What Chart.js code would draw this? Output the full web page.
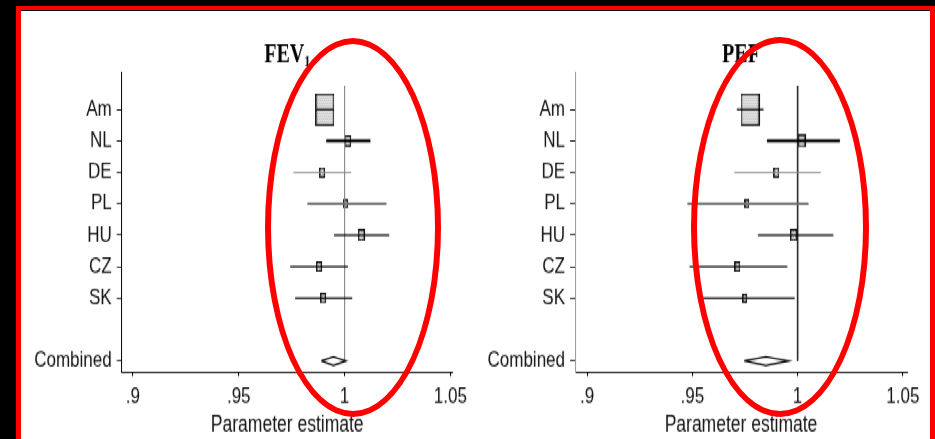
<!DOCTYPE html>
<html>
<head>
<meta charset="utf-8">
<script src="https://cdn.jsdelivr.net/npm/chart.js@4.4.1/dist/chart.umd.min.js"></script>
<style>
  html, body { margin: 0; padding: 0; background: #000; width: 935px; height: 439px; overflow: hidden; }
  #frame {
    position: absolute; left: 16px; top: 6px; width: 909px; height: 429px;
    background: #fff; border-left: 5px solid #f00; border-top: 4px solid #f00; border-right: 5px solid #f00;
    box-shadow: inset 0 1px 0 #000;
  }
  /* the source picture is stretched vertically, so the plots are drawn flat and scaled up */
  #plots { position: absolute; left: 0; top: 0; width: 935px; height: 338px; transform: scaleY(1.3); transform-origin: 0 0; }
  .panel { position: absolute; top: 0; height: 338px; }
  .ring { position: absolute; border: 6px solid #f00; border-radius: 50%; box-sizing: border-box; }
</style>
</head>
<body>
<div id="frame"></div>
<div id="plots">
  <div class="panel" style="left:21px;width:454px"><canvas id="fev" width="454" height="338"></canvas></div>
  <div class="panel" style="left:475px;width:455px"><canvas id="pef" width="455" height="338"></canvas></div>
</div>
<div class="ring" style="left:265px;top:38px;width:176px;height:379px"></div>
<div class="ring" style="left:691px;top:37px;width:178px;height:380px"></div>

<script>
const rowLabels = ["Am", "NL", "DE", "PL", "HU", "CZ", "SK"];
const combinedLabel = "Combined";
const combinedRow = 8;
const xTickValues = [0.9, 0.95, 1, 1.05];
const xTickLabels = [".9", ".95", "1", "1.05"];
const nullValue = 1;

// FEV1
const fevEst = [0.9907, 1.0015, 0.9894, 1.0006, 1.0079, 0.9879, 0.9899];
const fevLow = [0.9866, 0.9913, 0.9758, 0.9824, 0.9950, 0.9743, 0.9766];
const fevHigh = [0.9950, 1.0122, 1.0031, 1.0198, 1.0211, 1.0016, 1.0036];
const fevWeight = [100, 13.6, 11, 6.9, 13.6, 9, 9];
const fevCombined = [0.9890, 0.9947, 1.0006]; // low, estimate, high

// PEF
const pefEst = [0.9774, 1.0019, 0.9899, 0.9759, 0.9981, 0.9714, 0.9749];
const pefLow = [0.9711, 0.9854, 0.9699, 0.9476, 0.9811, 0.9486, 0.9530];
const pefHigh = [0.9838, 1.0201, 1.0110, 1.0052, 1.0170, 0.9951, 0.9986];
const pefWeight = [100, 17.7, 10, 6.9, 12.4, 10, 6.9];
const pefCombined = [0.9746, 0.9849, 0.9957];

// line style for each row (not data)
const ciColor = ["#000", "#000", "#8a8a8a", "#707070", "#000", "#000", "#000"];
const ciWidth = [1.2, 2.4, 1, 1.8, 1.3, 1.3, 1.3];

const sansFont = { family: '"Liberation Sans", Arial, sans-serif', size: 17 };

// box marker, area ~ weight
function boxImage(weight) {
  const w = Math.round(1.9 * Math.sqrt(weight));
  const h = Math.round(w * 1.3);
  const c = document.createElement("canvas");
  c.width = w;
  c.height = h;
  const g = c.getContext("2d");
  g.fillStyle = "#f2f2f2";
  g.fillRect(0, 0, w, h);
  g.fillStyle = "#8c8c8c";
  for (let y = 1; y < h; y += 2) {
    for (let x = (y % 4 === 1 ? 1 : 2); x < w; x += 2) g.fillRect(x, y, 1, 1);
  }
  g.strokeStyle = "#111";
  g.lineWidth = 1.3;
  g.strokeRect(0.65, 0.65, w - 1.3, h - 1.3);
  return c;
}

const panelTitle = {
  id: "panelTitle",
  afterDraw(chart, args, opts) {
    const { ctx, chartArea } = chart;
    ctx.save();
    ctx.fillStyle = "#000";
    ctx.textAlign = "left";
    ctx.textBaseline = "alphabetic";
    ctx.font = 'bold 20px "Liberation Serif", serif';
    const mainW = ctx.measureText(opts.text).width;
    ctx.font = 'bold 12px "Liberation Serif", serif';
    const subW = opts.sub ? ctx.measureText(opts.sub).width : 0;
    const x0 = (chartArea.left + chartArea.right) / 2 - (mainW + subW) / 2;
    ctx.font = 'bold 20px "Liberation Serif", serif';
    ctx.fillText(opts.text, x0, 47.7);
    if (opts.sub) {
      ctx.font = 'bold 12px "Liberation Serif", serif';
      ctx.fillText(opts.sub, x0 + mainW, 51);
    }
    ctx.restore();
  },
};

function makeForest(canvasId, cfg) {
  const datasets = [];

  // boxes
  datasets.push({
    data: cfg.est.map((v, i) => ({ x: v, y: i })),
    pointStyle: cfg.weight.map((w) => boxImage(w)),
    pointRadius: 3,
    showLine: false,
    order: 3,
  });

  // confidence intervals
  cfg.est.forEach((v, i) => {
    datasets.push({
      data: [{ x: cfg.low[i], y: i }, { x: cfg.high[i], y: i }],
      showLine: true,
      borderColor: ciColor[i],
      borderWidth: ciWidth[i],
      pointRadius: 0,
      order: 1,
    });
  });

  // line of no effect
  datasets.push({
    data: [{ x: nullValue, y: -0.75 }, { x: nullValue, y: combinedRow }],
    showLine: true,
    borderColor: cfg.refColor,
    borderWidth: cfg.refWidth,
    pointRadius: 0,
    order: 2,
  });

  // combined diamond
  const [lo, mid, hi] = cfg.combined;
  datasets.push({
    data: [
      { x: lo, y: combinedRow },
      { x: mid, y: combinedRow - 0.14 },
      { x: hi, y: combinedRow },
      { x: mid, y: combinedRow + 0.14 },
      { x: lo, y: combinedRow },
    ],
    showLine: true,
    borderColor: "#000",
    borderWidth: 1.3,
    backgroundColor: "#fff",
    fill: true,
    pointRadius: 0,
    tension: 0,
    order: 0,
  });

  return new Chart(document.getElementById(canvasId), {
    type: "scatter",
    data: { datasets },
    plugins: [panelTitle],
    options: {
      responsive: false,
      animation: false,
      events: [],
      layout: { padding: { top: 55.4, right: cfg.padRight, bottom: 0, left: 0 } },
      plugins: {
        legend: { display: false },
        tooltip: { enabled: false },
        panelTitle: { text: cfg.title, sub: cfg.sub },
      },
      scales: {
        x: {
          type: "linear",
          min: cfg.xMin,
          max: cfg.xMax,
          afterBuildTicks: (s) => {
            s.ticks = xTickValues.map((v) => ({ value: v }));
          },
          ticks: {
            callback: (v, i) => xTickLabels[i],
            font: sansFont,
            color: "#111",
            padding: 6,
            maxRotation: 0,
            autoSkip: false,
          },
          grid: { drawOnChartArea: false, tickLength: 3, color: "#000" },
          border: { color: "#000", width: 1 },
          title: {
            display: true,
            text: "Parameter estimate",
            font: { family: sansFont.family, size: 17.5 },
            color: "#111",
            padding: { top: 0, bottom: 0 },
          },
          afterFit: (s) => {
            s.height = 51.6;
          },
        },
        y: {
          type: "linear",
          reverse: true,
          min: -1.19,
          max: 8.36,
          afterBuildTicks: (s) => {
            s.ticks = [0, 1, 2, 3, 4, 5, 6, combinedRow].map((v) => ({ value: v }));
          },
          ticks: {
            callback: (v) => (v === combinedRow ? combinedLabel : rowLabels[v]),
            font: sansFont,
            color: "#111",
            padding: 5,
            autoSkip: false,
          },
          grid: { drawOnChartArea: false, tickLength: 5, color: "#222" },
          border: { color: cfg.yAxisColor, width: 1 },
          afterFit: (s) => {
            s.width = cfg.yWidth;
          },
        },
      },
    },
  });
}

makeForest("fev", {
  title: "FEV",
  sub: "1",
  est: fevEst,
  low: fevLow,
  high: fevHigh,
  weight: fevWeight,
  combined: fevCombined,
  xMin: 0.8947,
  xMax: 1.0511,
  yWidth: 100.7,
  padRight: 22.3,
  refColor: "#888",
  refWidth: 1,
  yAxisColor: "#000",
});

makeForest("pef", {
  title: "PEF",
  sub: "",
  est: pefEst,
  low: pefLow,
  high: pefHigh,
  weight: pefWeight,
  combined: pefCombined,
  xMin: 0.8942,
  xMax: 1.052,
  yWidth: 100,
  padRight: 23,
  refColor: "#222",
  refWidth: 1.6,
  yAxisColor: "#9a9a9a",
});
</script>
</body>
</html>
